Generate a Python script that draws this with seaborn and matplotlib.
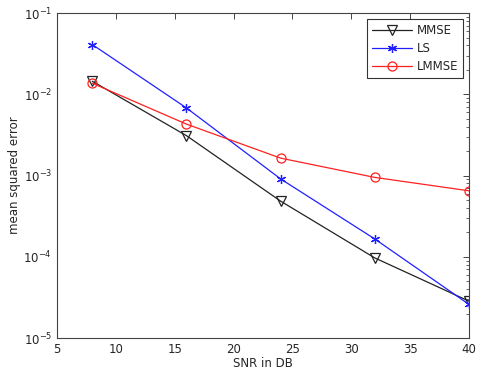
import numpy as np
import matplotlib
matplotlib.use("Agg")
import matplotlib.pyplot as plt
import seaborn as sns
from matplotlib.ticker import LogLocator, NullFormatter

snr = [8, 16, 24, 32, 40]
mmse = [0.0145, 0.0031, 4.85e-4, 9.7e-5, 2.85e-5]
ls = [0.041, 0.0068, 9.1e-4, 1.66e-4, 2.6e-5]
lmmse = [0.0137, 0.0043, 0.00164, 9.5e-4, 6.5e-4]

sns.set_style("white")
plt.rcParams["font.family"] = ["DejaVu Sans"]
fig = plt.figure(figsize=(4.79, 3.74), dpi=100)
ax = fig.add_axes([0.119, 0.096, 0.860, 0.869])

series = [
    ("MMSE", mmse, "#222222", "v"),
    ("LS", ls, "#2020ff", (6, 2, 0)),
    ("LMMSE", lmmse, "#ff2020", "o"),
]
for name, vals, col, mk in series:
    sns.lineplot(x=snr, y=vals, color=col, marker=mk, label=name, ax=ax,
                 linewidth=0.9, markersize=6.5, markerfacecolor="none",
                 markeredgecolor=col, markeredgewidth=0.9)

ax.set_yscale("log")
ax.set_xlim(5, 40)
ax.set_ylim(1e-5, 1e-1)
ax.set_xticks([5, 10, 15, 20, 25, 30, 35, 40])
ax.yaxis.set_major_locator(LogLocator(base=10, numticks=10))
ax.yaxis.set_minor_locator(LogLocator(base=10, subs=np.arange(2, 10), numticks=10))
ax.yaxis.set_minor_formatter(NullFormatter())
ax.tick_params(which="both", direction="in", top=True, right=True, labelsize=8.5)
ax.tick_params(which="major", length=4, width=0.6)
ax.tick_params(which="minor", length=2, width=0.5)
for s in ax.spines.values():
    s.set_color("#444444")
    s.set_linewidth(0.8)

ax.set_xlabel("SNR in DB", fontsize=8.5, labelpad=1)
ax.set_ylabel("mean squared error", fontsize=8.5, labelpad=2)

leg = ax.legend(loc="upper right", fontsize=8.5, frameon=True, fancybox=False,
                edgecolor="black", handlelength=3.4, borderpad=0.4,
                labelspacing=0.45, handletextpad=0.4, borderaxespad=0.5)
leg.get_frame().set_linewidth(0.8)

fig.savefig("out.png", dpi=100)
